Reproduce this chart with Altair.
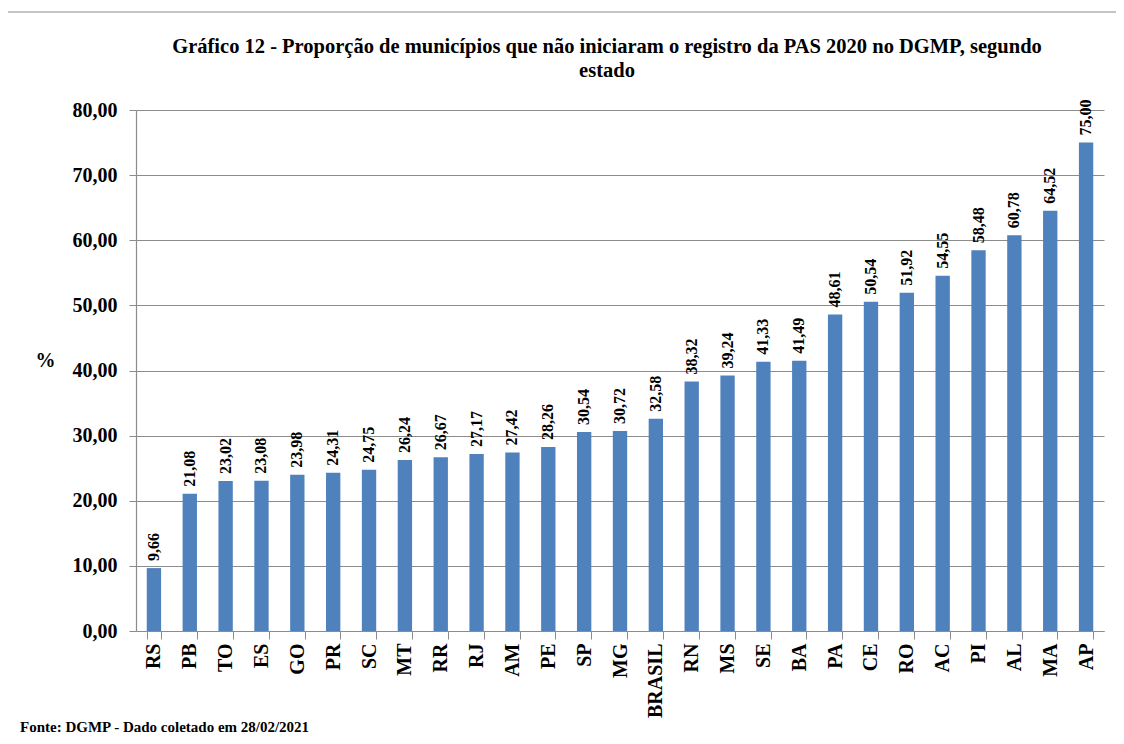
import altair as alt
import pandas as pd

estados = ["RS", "PB", "TO", "ES", "GO", "PR", "SC", "MT", "RR", "RJ", "AM", "PE", "SP", "MG",
           "BRASIL", "RN", "MS", "SE", "BA", "PA", "CE", "RO", "AC", "PI", "AL", "MA", "AP"]
valores = [9.66, 21.08, 23.02, 23.08, 23.98, 24.31, 24.75, 26.24, 26.67, 27.17, 27.42, 28.26, 30.54, 30.72,
           32.58, 38.32, 39.24, 41.33, 41.49, 48.61, 50.54, 51.92, 54.55, 58.48, 60.78, 64.52, 75.00]
y_ticks = [0, 10, 20, 30, 40, 50, 60, 70, 80]

titulo_1 = "Gráfico 12 -  Proporção  de municípios que não iniciaram o registro da PAS 2020 no  DGMP, segundo"
titulo_2 = "estado"
fonte_txt = "Fonte: DGMP - Dado coletado em 28/02/2021"

df = pd.DataFrame({"estado": estados, "valor": valores})
df["rotulo"] = [f"{v:.2f}".replace(".", ",") for v in valores]

SERIF = "Liberation Serif"
BLUE = "#4F81BD"
GRAY = "#8C8C8C"

x_enc = alt.X("estado:N", sort=estados, title=None,
              scale=alt.Scale(paddingInner=0.6, paddingOuter=0.3),
              axis=alt.Axis(labelAngle=-90, labelFont=SERIF, labelFontSize=20, labelFontWeight="bold",
                            labelColor="black", labelAlign="right", labelBaseline="middle",
                            tickBand="extent", tickSize=8, tickColor=GRAY, domainColor=GRAY,
                            labelPadding=4, grid=False))
y_enc = alt.Y("valor:Q", title="%",
              scale=alt.Scale(domain=[0, 80], nice=False),
              axis=alt.Axis(values=y_ticks,
                            labelExpr="replace(format(datum.value, '.2f'), '.', ',')",
                            labelFont=SERIF, labelFontSize=20, labelFontWeight="bold", labelColor="black",
                            labelPadding=12, tickSize=7, tickColor=GRAY, domainColor=GRAY,
                            gridColor=GRAY, gridWidth=1,
                            titleFont=SERIF, titleFontSize=20, titleFontWeight="bold", titleColor="black",
                            titleAngle=0, titleX=-91, titleY=250, titleAlign="center",
                            titleBaseline="middle"))

bars = alt.Chart(df).mark_bar(color=BLUE).encode(x=x_enc, y=y_enc)

labels = alt.Chart(df).mark_text(angle=270, align="left", baseline="middle", dx=7,
                                 font=SERIF, fontSize=16, fontWeight="bold", color="black").encode(
    x=alt.X("estado:N", sort=estados),
    y=alt.Y("valor:Q"),
    text="rotulo:N")

frame_df = pd.DataFrame({"k": [0]})
frame = alt.Chart(frame_df).mark_rect(fill=None, stroke=GRAY, strokeWidth=1.2).encode(
    x=alt.value(-129), x2=alt.value(1100), y=alt.value(-98), y2=alt.value(700))

def title_line(text, ypix):
    d = pd.DataFrame({"t": [text]})
    return alt.Chart(d).mark_text(align="center", baseline="alphabetic", font=SERIF,
                                  fontSize=20.5, fontWeight="bold", color="black").encode(
        x=alt.value(471), y=alt.value(ypix), text="t:N")

t1 = title_line(titulo_1, -57)
t2 = title_line(titulo_2, -33)

foot_df = pd.DataFrame({"t": [fonte_txt]})
footer = alt.Chart(foot_df).mark_text(align="left", baseline="alphabetic", font=SERIF, fontSize=15,
                                      fontWeight="bold", color="black").encode(
    x=alt.value(-116), y=alt.value(622), text="t:N")

chart = alt.layer(frame, bars, labels, t1, t2, footer).properties(
    width=968, height=521,
    autosize=alt.AutoSizeParams(type="none"),
    padding={"left": 128, "top": 102, "right": 12, "bottom": 105},
).configure_view(stroke=None).configure_axis(domainWidth=1.2)

chart.save("out.html", embed_options={"renderer": "svg", "actions": False})
